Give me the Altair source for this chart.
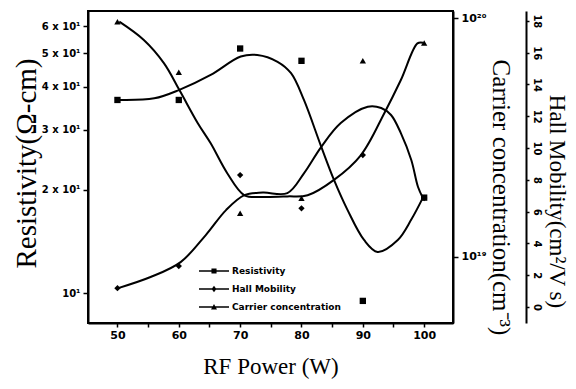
import altair as alt
import pandas as pd

# ---- data ----
power = [50, 60, 70, 80, 90, 100]
res_pts = [36.6, 36.6, 51.7, 47.6, 9.5, 19.0]
hall_pts = [1.19, 2.58, 8.30, 6.21, 9.56, 6.86]
carr_pts = [9.68e19, 5.94e19, 1.52e19, 1.76e19, 6.64e19, 7.87e19]

res_curve_x = [50.3, 56.0, 60.0, 65.2, 70.1, 72.8, 76.1, 78.3, 80.4, 83.2, 85.3, 87.5, 90.2, 92.4, 95.7, 97.9, 99.8]
res_curve_y = [36.6, 37.0, 39.1, 43.3, 49.0, 49.5, 47.3, 43.8, 36.6, 26.8, 21.4, 17.5, 14.3, 13.2, 14.3, 16.4, 19.0]

hall_curve_x = [50.0, 55.4, 60.3, 64.4, 67.7, 70.7, 73.7, 77.7, 80.4, 83.2, 86.4, 90.8, 93.0, 94.6, 96.2, 97.9, 99.0, 99.8]
hall_curve_y = [1.18, 1.89, 2.83, 4.53, 6.10, 7.04, 7.20, 7.17, 8.41, 10.06, 11.57, 12.60, 12.52, 12.08, 10.94, 9.25, 7.55, 6.86]

carr_curve_x = [50.3, 54.3, 57.6, 60.1, 63.1, 65.2, 67.9, 70.7, 73.7, 77.7, 81.0, 85.3, 89.7, 93.5, 96.2, 98.9, 99.8]
carr_curve_y = [9.68e19, 8.11e19, 6.47e19, 5.0e19, 3.63e19, 2.99e19, 2.24e19, 1.81e19, 1.78e19, 1.79e19,
                1.81e19, 2.10e19, 2.67e19, 4.0e19, 5.51e19, 7.85e19, 7.9e19]

series = ["Resistivity", "Hall Mobility", "Carrier concentration"]
res_ticks = [10, 20, 30, 40, 50, 60]
carr_ticks = [1e19, 1e20]
hall_ticks = [0, 2, 4, 6, 8, 10, 12, 14, 16, 18]

# ---- tables ----
df_res_c = pd.DataFrame({"p": res_curve_x, "v": res_curve_y, "i": range(len(res_curve_x))})
df_hall_c = pd.DataFrame({"p": hall_curve_x, "v": hall_curve_y, "i": range(len(hall_curve_x))})
df_carr_c = pd.DataFrame({"p": carr_curve_x, "v": carr_curve_y, "i": range(len(carr_curve_x))})
df_res_p = pd.DataFrame({"p": power, "v": res_pts})
df_hall_p = pd.DataFrame({"p": power, "v": hall_pts})
df_carr_p = pd.DataFrame({"p": power, "v": carr_pts})

LBL = "DejaVu Sans"
SERIF = "Liberation Serif"

X = alt.X("p:Q",
          scale=alt.Scale(domain=[45.2, 104.7], nice=False, zero=False),
          axis=alt.Axis(values=[50, 55, 60, 65, 70, 75, 80, 85, 90, 95, 100],
                        labelExpr="datum.value % 10 == 0 ? datum.label : ''",
                        title="RF Power (W)", titleFont=SERIF, titleFontSize=23,
                        titleFontWeight="normal", titleY=50, titleBaseline="alphabetic",
                        labelFont=LBL, labelFontWeight="bold", labelFontSize=11,
                        labelPadding=2, tickSize=4))

Yres = alt.Y("v:Q",
             scale=alt.Scale(type="log", domain=[8.19, 66.5], nice=False),
             axis=alt.Axis(orient="left", values=res_ticks,
                           labelExpr="datum.value == 10 ? '10¹' : format(datum.value/10, 'd') + ' x 10¹'",
                           title="Resistivity(Ω-cm)", titleFont=SERIF, titleFontSize=29,
                           titleFontWeight="normal", titleX=-62, titleY=152,
                           titleBaseline="middle", titleAngle=270,
                           labelFont=LBL, labelFontWeight="bold", labelFontSize=10,
                           labelPadding=3, tickSize=5))

Ycarr = alt.Y("v:Q",
              scale=alt.Scale(type="log", domain=[5.27e18, 1.073e20], nice=False),
              axis=alt.Axis(orient="right", values=carr_ticks,
                            labelExpr="datum.value > 5e19 ? '10²⁰' : '10¹⁹'",
                            title="Carrier concentration(cm⁻³)", titleFont=SERIF, titleFontSize=25,
                            titleFontWeight="normal", titleX=47, titleY=186,
                            titleBaseline="middle", titleAngle=90,
                            labelFont=LBL, labelFontWeight="bold", labelFontSize=11,
                            labelPadding=3, tickSize=5))

Yhall = alt.Y("v:Q",
              scale=alt.Scale(domain=[-1.0, 18.62], nice=False, zero=False),
              axis=alt.Axis(orient="right", offset=73, values=hall_ticks,
                            title="Hall Mobility(cm²/V s)", titleFont=SERIF, titleFontSize=23,
                            titleFontWeight="normal", titleX=30, titleY=190,
                            titleBaseline="middle", titleAngle=90,
                            labelFont=LBL, labelFontWeight="bold", labelFontSize=10,
                            labelAngle=90, labelAlign="center", labelBaseline="bottom",
                            labelPadding=2, tickSize=3))

line_kw = dict(interpolate="catmull-rom", color="black", strokeWidth=2)
pt_kw = dict(filled=True, color="black", size=40, opacity=1)

BAR = "M-1,-0.05H1V0.05H-1Z"
paths = [
    BAR + "M-0.17,-0.17H0.17V0.17H-0.17Z",
    BAR + "M0,-0.22L0.16,0L0,0.22L-0.16,0Z",
    BAR + "M0,-0.2L0.2,0.17H-0.2Z",
]
leg_y = [245, 263, 281]


def legend_layer(k, df_pts, Y):
    d = df_pts.iloc[[0]].assign(s=series[k])
    return alt.Chart(d).mark_point(filled=True, color="black", opacity=0).encode(
        x=X, y=Y,
        shape=alt.Shape("s:N", scale=alt.Scale(domain=[series[k]], range=[paths[k]]),
                        legend=alt.Legend(title=None, orient="none", legendX=111, legendY=leg_y[k],
                                          symbolSize=900, symbolOpacity=1,
                                          symbolFillColor="black", symbolStrokeWidth=0,
                                          labelFont=LBL, labelFontWeight="bold", labelFontSize=9,
                                          labelOffset=3, padding=0)),
    )


res_layer = alt.layer(
    alt.Chart(df_res_c).mark_line(**line_kw).encode(x=X, y=Yres, order="i:Q"),
    alt.Chart(df_res_p).mark_point(shape="square", **pt_kw).encode(x=X, y=Yres),
    legend_layer(0, df_res_p, Yres),
)
hall_layer = alt.layer(
    alt.Chart(df_hall_c).mark_line(**line_kw).encode(x=X, y=Yhall, order="i:Q"),
    alt.Chart(df_hall_p).mark_point(shape="diamond", **pt_kw).encode(x=X, y=Yhall),
    legend_layer(1, df_hall_p, Yhall),
)
carr_layer = alt.layer(
    alt.Chart(df_carr_c).mark_line(**line_kw).encode(x=X, y=Ycarr, order="i:Q"),
    alt.Chart(df_carr_p).mark_point(shape="triangle-up", **pt_kw).encode(x=X, y=Ycarr),
    legend_layer(2, df_carr_p, Ycarr),
)

chart = alt.layer(res_layer, carr_layer, hall_layer).resolve_scale(
    y="independent", shape="independent"
).properties(
    width=365, height=312,
    autosize=alt.AutoSizeParams(type="none"),
    padding={"left": 80, "top": 3, "right": 115, "bottom": 58},
    background="white",
).configure_view(
    stroke="black", strokeWidth=2
).configure_axis(
    grid=False, domainColor="black", domainWidth=2, tickColor="black", tickWidth=1.5,
    labelColor="black", titleColor="black"
)

chart.save("out.html", embed_options={"renderer": "svg", "actions": False})
